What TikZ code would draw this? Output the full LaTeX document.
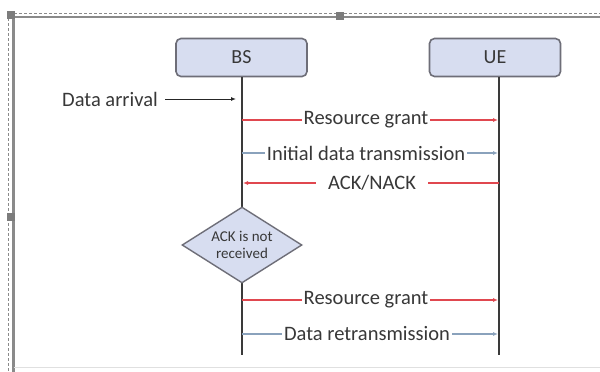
\documentclass[tikz,border=0pt]{standalone}
\usepackage{fontspec}
\setmainfont{Carlito}
\usetikzlibrary{shapes.geometric,arrows.meta}
\definecolor{txt}{HTML}{383838}
\definecolor{redl}{HTML}{E0474F}
\definecolor{bluel}{HTML}{8AA2BC}
\definecolor{boxfill}{HTML}{D7DDF0}
\definecolor{boxdraw}{HTML}{6E6E78}
\definecolor{lifec}{HTML}{3A3A3A}
\definecolor{framec}{HTML}{8A8A8A}
\tikzset{
  actor/.style={draw=boxdraw, line width=1.6pt, fill=boxfill, rounded corners=5pt,
    minimum width=131pt, minimum height=38pt, text=txt, font=\fontsize{20}{22}\selectfont},
  life/.style={draw=lifec, line width=1.8pt},
  msgtext/.style={fill=white, text=txt, font=\fontsize{20.5}{22}\selectfont, inner xsep=2pt, inner ysep=1pt},
  redmsg/.style={draw=redl, line width=1.2pt, -{Latex[length=5pt,width=4pt]}},
  bluemsg/.style={draw=bluel, line width=1.2pt, -{Latex[length=5pt,width=4pt]}},
  decision/.style={diamond, draw=boxdraw, line width=1.4pt, fill=boxfill, aspect=1.58,
    minimum width=120pt, minimum height=76pt, inner sep=0pt, text=txt, align=center,
    font=\fontsize{15}{17}\selectfont},
  handle/.style={fill=framec!90!black, draw=none, minimum size=8pt, inner sep=0pt},
}
\begin{document}
\begin{tikzpicture}[x=1pt,y=-1pt]
\useasboundingbox[fill=white] (0,0) rectangle (600,372);
% screenshot frame
\draw[framec, line width=1pt, dash pattern=on 3pt off 2pt] (9,13) -- (600,13);
\draw[framec, line width=1pt, dash pattern=on 3pt off 2pt] (8,13) -- (8,372);
\draw[framec, line width=2pt] (13,16.5) -- (600,16.5);
\draw[framec, line width=2.5pt] (13.5,16) -- (13.5,372);
\draw[black!12, line width=0.8pt] (14,367) -- (600,367);
\node[handle] (h1) at (11,15) {};
\node[handle] (h2) at (340,16) {};
\node[handle] (h3) at (11,217) {};
% actors
\node[actor] (bs) at (241.5,57.5) {BS};
\node[actor] (ue) at (495,57.5) {UE};
\coordinate (bsend) at (242,355);
\coordinate (ueend) at (499,355);
\draw[life] (bs.south -| bsend) -- (bsend);
\draw[life] (ue.south -| ueend) -- (ueend);
% data arrival
\node[text=txt, font=\fontsize{20.5}{22}\selectfont, anchor=east, inner sep=0pt] (da) at (158,99) {Data arrival};
\coordinate (dahead) at (236,99);
\draw[black!85, line width=1pt, -{Latex[length=5pt,width=4pt]}] ([xshift=7pt]da.east) -- (dahead);
% messages
\coordinate (b1) at (242,120); \coordinate (u1) at (498,120);
\draw[redmsg] (b1) -- (u1);
\node[msgtext] (m1) at (366,120) {Resource grant};
\coordinate (b2) at (242,153); \coordinate (u2) at (498,153);
\draw[bluemsg] (b2) -- (u2);
\node[msgtext] (m2) at (366,153) {Initial data transmission};
\coordinate (b3) at (243,183); \coordinate (u3) at (499,183);
\draw[redmsg] (u3) -- (b3);
\node[msgtext, inner xsep=12pt] (m3) at (372,183) {ACK/NACK};
% decision
\node[decision] (dec) at (242,245) {ACK is not\\received};
\coordinate (b4) at (242,300); \coordinate (u4) at (498,300);
\draw[redmsg] (b4) -- (u4);
\node[msgtext] (m4) at (366,300) {Resource grant};
\coordinate (b5) at (242,334); \coordinate (u5) at (498,334);
\draw[bluemsg] (b5) -- (u5);
\node[msgtext] (m5) at (367,334) {Data retransmission};
\end{tikzpicture}
\end{document}
